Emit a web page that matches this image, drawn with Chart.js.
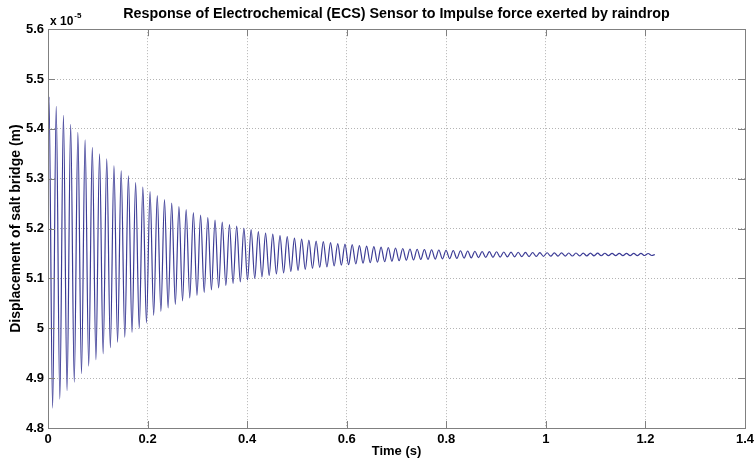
<!DOCTYPE html>
<html>
<head>
<meta charset="utf-8">
<script src="https://cdn.jsdelivr.net/npm/chart.js@4/dist/chart.umd.min.js"></script>
<style>
  body { margin: 0; background: #fff; }
  canvas { display: block; }
</style>
</head>
<body>
<canvas id="chart" width="755" height="468"></canvas>
<script>
// readings, displacement in units of 1e-5 m
const firstPeakTime = 0.002   // s
const period = 0.0145         // s, one oscillation (~69 Hz)
const startValue = 5.30
const endTime = 1.219
const endValue = 5.148

// crest of each cycle
const peaks = [
  5.464, 5.445, 5.427, 5.409, 5.393, 5.378, 5.363, 5.350, 5.340, 5.326,
  5.316, 5.306, 5.292, 5.283, 5.274, 5.266, 5.258, 5.251, 5.244, 5.238,
  5.232, 5.227, 5.222, 5.217, 5.213, 5.208, 5.205, 5.201, 5.198, 5.194,
  5.191, 5.189, 5.186, 5.184, 5.181, 5.179, 5.177, 5.175, 5.174, 5.172,
  5.170, 5.169, 5.168, 5.166, 5.165, 5.164, 5.163, 5.162, 5.161, 5.160,
  5.159, 5.1585, 5.158, 5.1575, 5.157, 5.1565, 5.156, 5.1555, 5.155, 5.1545,
  5.154, 5.1538, 5.1535, 5.153, 5.1528, 5.1525, 5.1522, 5.152, 5.1518, 5.1515,
  5.1513, 5.1512, 5.151, 5.151, 5.1508, 5.1507, 5.1506, 5.1505, 5.1504, 5.1503,
  5.1502, 5.1502, 5.1501, 5.150
]

// trough that follows each crest
const troughs = [
  4.840, 4.858, 4.875, 4.892, 4.909, 4.924, 4.937, 4.949, 4.961, 4.972,
  4.982, 4.992, 5.000, 5.011, 5.026, 5.034, 5.041, 5.048, 5.055, 5.061,
  5.066, 5.072, 5.077, 5.081, 5.086, 5.090, 5.093, 5.097, 5.100, 5.103,
  5.106, 5.109, 5.111, 5.114, 5.116, 5.118, 5.120, 5.122, 5.123, 5.125,
  5.1265, 5.1275, 5.129, 5.1305, 5.1315, 5.1325, 5.1335, 5.1345, 5.1355, 5.1365,
  5.137, 5.138, 5.1382, 5.1388, 5.1392, 5.1398, 5.1402, 5.1408, 5.1412, 5.1418,
  5.1421, 5.1424, 5.1428, 5.1431, 5.1434, 5.1437, 5.1439, 5.1441, 5.1444, 5.1446,
  5.1448, 5.1449, 5.145, 5.1451, 5.1453, 5.1454, 5.1455, 5.1456, 5.1457, 5.1458,
  5.1458, 5.1459, 5.146, 5.146
]

const xTicks = [0, 0.2, 0.4, 0.6, 0.8, 1, 1.2, 1.4]
const yTicks = [4.8, 4.9, 5, 5.1, 5.2, 5.3, 5.4, 5.5, 5.6]

const FONT = "'Liberation Sans', Arial, sans-serif"

// points at each crest and trough
const points = [{ x: 0, y: startValue }]
peaks.forEach((p, i) => {
  const t = firstPeakTime + i * period
  points.push({ x: t, y: p })
  points.push({ x: t + period / 2, y: troughs[i] })
})
points.push({ x: endTime, y: endValue })

// white background, frame, inward ticks and the exponent label, matlab style
const matlabFrame = {
  id: 'matlabFrame',
  beforeDraw(chart) {
    const ctx = chart.ctx
    ctx.save()
    ctx.fillStyle = '#fff'
    ctx.fillRect(0, 0, chart.width, chart.height)
    ctx.restore()
  },
  afterDraw(chart) {
    const { ctx, chartArea: { left, right, top, bottom }, scales: { x, y } } = chart
    ctx.save()
    ctx.strokeStyle = '#808080'
    ctx.lineWidth = 1
    ctx.beginPath()
    xTicks.forEach((v) => {
      const px = Math.round(x.getPixelForValue(v)) + 0.5
      ctx.moveTo(px, bottom)
      ctx.lineTo(px, bottom - 7)
      ctx.moveTo(px, top)
      ctx.lineTo(px, top + 7)
    })
    yTicks.forEach((v) => {
      const py = Math.round(y.getPixelForValue(v)) + 0.5
      ctx.moveTo(left, py)
      ctx.lineTo(left + 7, py)
      ctx.moveTo(right, py)
      ctx.lineTo(right - 7, py)
    })
    ctx.stroke()
    ctx.strokeRect(Math.round(left) + 0.5, Math.round(top) + 0.5, Math.round(right - left), Math.round(bottom - top))

    ctx.fillStyle = '#000'
    ctx.textBaseline = 'alphabetic'
    ctx.font = 'bold 12px ' + FONT
    ctx.fillText('x 10', left + 2, top - 4)
    const w = ctx.measureText('x 10').width
    ctx.font = 'bold 8px ' + FONT
    ctx.fillText('-5', left + 3 + w, top - 11)
    ctx.restore()
  }
}

new Chart(document.getElementById('chart').getContext('2d'), {
  type: 'line',
  data: {
    datasets: [
      {
        data: points,
        borderColor: '#3c3c96',
        borderWidth: 1.2,
        pointRadius: 0,
        fill: false,
        cubicInterpolationMode: 'monotone'
      }
    ]
  },
  options: {
    responsive: false,
    animation: false,
    events: [],
    layout: { padding: { right: 10 } },
    plugins: {
      legend: { display: false },
      tooltip: { enabled: false },
      title: {
        display: true,
        fullSize: false,
        text: 'Response of Electrochemical (ECS) Sensor to Impulse force exerted by raindrop',
        color: '#000',
        font: { family: FONT, size: 14.3, weight: 'bold', lineHeight: 1.2 },
        padding: { top: 5, bottom: 7 }
      }
    },
    scales: {
      x: {
        type: 'linear',
        min: 0,
        max: 1.4,
        afterFit: (scale) => {
          scale.height = 40
          scale.paddingLeft = 0
          scale.paddingRight = 0
        },
        afterBuildTicks: (scale) => { scale.ticks = xTicks.map((v) => ({ value: v })) },
        border: { display: false, dash: [1, 2] },
        grid: { color: '#b4b4b4', drawTicks: false },
        ticks: {
          padding: 4,
          color: '#000',
          maxRotation: 0,
          font: { family: FONT, size: 13, weight: 'bold' },
          callback: (v) => String(+v.toFixed(1))
        },
        title: {
          display: true,
          text: 'Time (s)',
          color: '#000',
          font: { family: FONT, size: 13, weight: 'bold' },
          padding: { top: 0, bottom: 9 }
        }
      },
      y: {
        min: 4.8,
        max: 5.6,
        afterFit: (scale) => {
          scale.width = 48
          scale.paddingTop = 0
          scale.paddingBottom = 0
        },
        afterBuildTicks: (scale) => { scale.ticks = yTicks.map((v) => ({ value: v })) },
        border: { display: false, dash: [1, 2] },
        grid: { color: '#b4b4b4', drawTicks: false },
        ticks: {
          padding: 4,
          color: '#000',
          font: { family: FONT, size: 13, weight: 'bold' },
          callback: (v) => String(+v.toFixed(1))
        },
        title: {
          display: true,
          text: 'Displacement of salt bridge (m)',
          color: '#000',
          font: { family: FONT, size: 14, weight: 'bold' },
          padding: { top: 8, bottom: 0 }
        }
      }
    }
  },
  plugins: [matlabFrame]
})
</script>
</body>
</html>
